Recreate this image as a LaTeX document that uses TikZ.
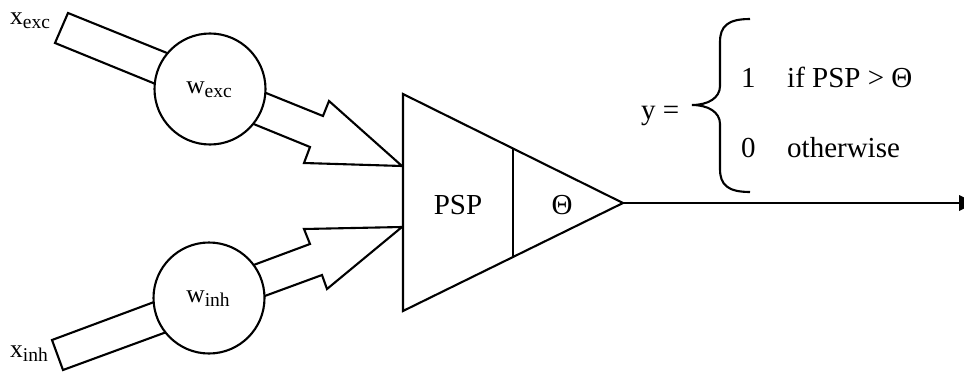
\documentclass[tikz,border=0pt]{standalone}
\usepackage{fontspec}
\setmainfont{Liberation Serif}
\begin{document}
\begin{tikzpicture}[x=1pt,y=-1pt,
  shp/.style={draw=black,line width=2.1pt,line join=miter,fill=white},
  wcircle/.style={circle,draw=black,line width=2.1pt,fill=white,minimum size=111pt,inner sep=0pt},
  bigtxt/.style={font=\fontsize{29}{32}\selectfont,inner sep=0pt},
  lbltxt/.style={font=\fontsize{25.5}{28}\selectfont,inner sep=0pt}]
\newcommand{\sbs}[1]{\raisebox{-4pt}{\fontsize{19.5}{20}\selectfont #1}}
\useasboundingbox (0,0) rectangle (964,372);
% input bars with arrowheads
\draw[shp] (68,13) -- (323,116) -- (329,101) -- (402,166) -- (304,163) -- (310,147) -- (55,43) -- cycle;
\draw[shp] (52,340) -- (310,244) -- (304,229) -- (402,227) -- (327,289) -- (322,275) -- (63,370) -- cycle;
% weight circles
\node[wcircle] (wexc) at (210,89) {};
\node[wcircle] (winh) at (209,298) {};
\node[lbltxt] (wexcl) at (209,90) {w\sbs{exc}};
\node[lbltxt] (winhl) at (208,299) {w\sbs{inh}};
\node[lbltxt] (xexc) at (30,21) {x\sbs{exc}};
\node[lbltxt] (xinh) at (29,354) {x\sbs{inh}};
% neuron body
\coordinate (tA) at (403,94);
\coordinate (tB) at (623,203);
\coordinate (tC) at (403,311);
\coordinate (dT) at (513,148.5);
\coordinate (dB) at (513,257);
\draw[shp] (tA) -- (tB) -- (tC) -- cycle;
\draw[line width=2.1pt] (dT) -- (dB);
\node[bigtxt] (psp) at (458,205) {PSP};
\node[bigtxt] (theta) at (562,205) {Θ};
% output
\coordinate (outE) at (959,203);
\draw[line width=2.5pt] (tB) -- (outE);
\fill[black] (959,195) -- (975,203) -- (959,211) -- cycle;
% output function
\node[bigtxt,anchor=base west] (yeq) at (641,119) {y =};
\draw[line width=2.1pt] (750,19) .. controls (728,19) and (720,26) .. (720,42)
  -- (720,86) .. controls (720,98) and (708,105) .. (692,105)
  .. controls (708,105) and (720,112) .. (720,124)
  -- (720,169) .. controls (720,185) and (728,192) .. (750,192);
\node[bigtxt,anchor=base west] (one) at (741,87) {1};
\node[bigtxt,anchor=base west] (cond) at (787,87) {if PSP > Θ};
\node[bigtxt,anchor=base west] (zero) at (741,157) {0};
\node[bigtxt,anchor=base west] (other) at (787,157) {otherwise};
\end{tikzpicture}
\end{document}
